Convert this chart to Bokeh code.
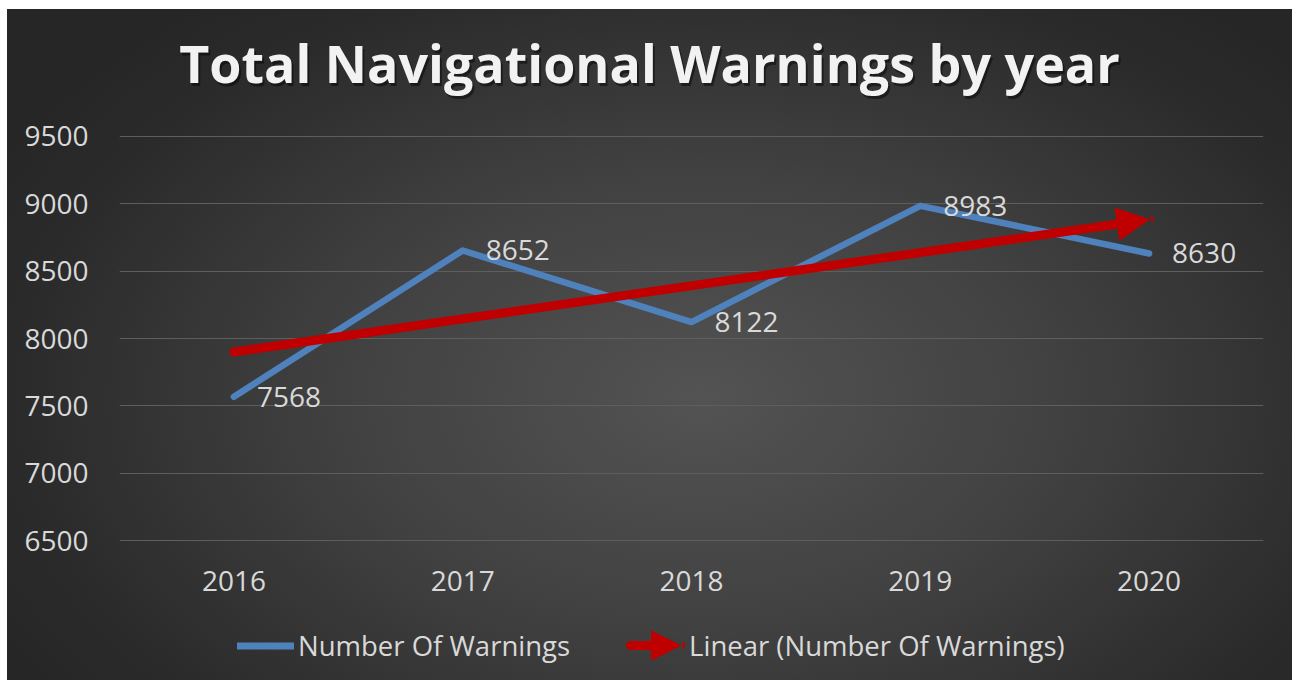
import numpy as np
from bokeh.plotting import figure
from bokeh.layouts import column
from bokeh.models import (ColumnDataSource, Arrow, NormalHead, Legend, LegendItem,
                          FixedTicker, Range1d, Label)
from bokeh.embed import file_html
from bokeh.resources import INLINE
from bokeh.core.properties import value

# ---- data ----
years = ["2016", "2017", "2018", "2019", "2020"]
warnings = [7568, 8652, 8122, 8983, 8630]
y_ticks = [6500, 7000, 7500, 8000, 8500, 9000, 9500]
title_text = "Total Navigational Warnings by year"
series_name = "Number Of Warnings"
trend_name = "Linear (Number Of Warnings)"

idx = list(range(1, len(years) + 1))
slope, intercept = np.polyfit(idx, warnings, 1)
trend_x = [idx[0], idx[-1]]
trend_y = [intercept + slope * idx[0], intercept + slope * idx[-1]]

FONT = "Open Sans"
TXT = "#D9D9D9"
BLUE = "#4F81BD"
RED = "#C00000"
W = 1285


def strip(height):
    f = figure(width=W, height=height, output_backend="svg", toolbar_location=None,
               x_range=Range1d(0, 1), y_range=Range1d(0, 1),
               x_axis_location=None, y_axis_location=None,
               min_border_left=0, min_border_right=0, min_border_top=0, min_border_bottom=0)
    f.grid.visible = False
    f.background_fill_alpha = 0
    f.border_fill_alpha = 0
    f.outline_line_color = None
    return f


# ---- header (title) ----
h = strip(100)
h.add_layout(Label(x=0.5, y=0.26, text=title_text, text_align="center",
                   text_baseline="alphabetic", x_offset=-40, y_offset=18,
                   text_color="#000000", text_alpha=0.45, text_font=FONT,
                   text_font_style="bold", text_font_size="52px"))
h.add_layout(Label(x=0.5, y=0.26, text=title_text, text_align="center",
                   text_baseline="alphabetic", x_offset=-42, y_offset=21,
                   text_color="#F2F2F2", text_font=FONT,
                   text_font_style="bold", text_font_size="52px"))

# ---- main chart ----
p = figure(width=W, height=501, x_range=Range1d(0.5, 5.5), y_range=Range1d(6496, 9504),
           output_backend="svg", toolbar_location=None,
           min_border_left=112, min_border_right=29, min_border_top=26, min_border_bottom=69)
p.background_fill_alpha = 0
p.border_fill_alpha = 0
p.outline_line_color = None

p.yaxis.ticker = FixedTicker(ticks=y_ticks)
p.xaxis.ticker = FixedTicker(ticks=idx)
p.xaxis.major_label_overrides = {i: y for i, y in zip(idx, years)}
for ax in (p.xaxis, p.yaxis):
    ax.axis_line_color = None
    ax.major_tick_line_color = None
    ax.minor_tick_line_color = None
    ax.major_tick_out = 0
    ax.major_tick_in = 0
    ax.major_label_text_color = TXT
    ax.major_label_text_font = FONT
    ax.major_label_text_font_size = "28px"
p.yaxis.major_label_standoff = 31
p.xaxis.major_label_standoff = 29

p.xgrid.grid_line_color = None
p.ygrid.grid_line_color = "#5E5E5E"
p.ygrid.grid_line_width = 1

src = ColumnDataSource(dict(x=idx, y=warnings, label=[str(v) for v in warnings]))
p.line("x", "y", source=src, line_color=BLUE, line_width=6.5,
       line_cap="round", line_join="round")
p.text("x", "y", text="label", source=src, x_offset=23, text_baseline="middle",
       text_align="left", text_color=TXT, text_font=value(FONT), text_font_size="28px")

p.add_layout(Arrow(end=NormalHead(size=32, fill_color=RED, line_color=RED),
                   x_start=trend_x[0], y_start=trend_y[0], x_end=trend_x[1], y_end=trend_y[1],
                   line_color=RED, line_width=9, line_cap="round"))

# ---- legend strip ----
q = strip(70)
proxy = ColumnDataSource(dict(x=[np.nan], y=[np.nan]))
l_blue = q.line("x", "y", source=proxy, line_color=BLUE, line_width=7, line_cap="round")
l_red = q.line("x", "y", source=proxy, line_color=RED, line_width=9, line_alpha=0)
legend = Legend(items=[LegendItem(label=series_name, renderers=[l_blue]),
                       LegendItem(label=trend_name, renderers=[l_red])],
                orientation="horizontal", location="left",
                glyph_width=57, glyph_height=30, label_standoff=4, spacing=58,
                padding=0, margin=118, background_fill_alpha=0, border_line_alpha=0,
                label_text_color=TXT, label_text_font=FONT, label_text_font_size="27.5px")
q.add_layout(legend)
# arrow-shaped key drawn over the (transparent) red legend glyph
q.add_layout(Arrow(end=NormalHead(size=29, fill_color=RED, line_color=RED),
                   x_start=0.4467, y_start=0.5, x_end=0.4904, y_end=0.5,
                   line_color=RED, line_width=9, line_cap="round"))

layout = column(h, p, q, spacing=0, margin=(9, 0, 0, 7),
                styles={"background": "radial-gradient(ellipse 62% 75% at 54% 58%, #535353 0%, #414141 45%, #2b2b2b 85%, #262626 100%)"})

open("out.html", "w").write(file_html(layout, INLINE))
